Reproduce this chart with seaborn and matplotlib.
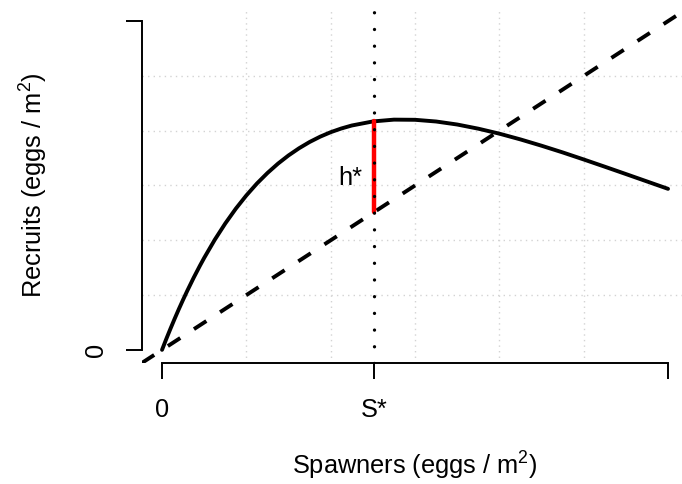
import matplotlib
matplotlib.use("Agg")
import matplotlib.pyplot as plt
import seaborn as sns

# values (grid units, 0..6 on both axes)
spawners = [0, 0.05, 0.1, 0.15, 0.2, 0.25, 0.3, 0.375, 0.45, 0.5, 0.625, 0.75,
            0.875, 1.0, 1.125, 1.25, 1.375, 1.5, 1.625, 1.75, 1.875, 2.0, 2.125,
            2.25, 2.5, 2.75, 3.0, 3.25, 3.5, 3.75, 4.0, 4.25, 4.5, 4.75,
            5.0, 5.25, 5.5, 5.75, 6.0]
recruits = [0, 0.197, 0.386, 0.569, 0.746, 0.916, 1.080, 1.316, 1.538, 1.679,
            2.009, 2.307, 2.577, 2.819, 3.036, 3.228, 3.399, 3.549, 3.680, 3.794,
            3.891, 3.973, 4.040, 4.095, 4.169, 4.202, 4.199, 4.168, 4.113, 4.037,
            3.946, 3.841, 3.726, 3.604, 3.475, 3.343, 3.209, 3.074, 2.939]
s_star = 2.51
h_bottom = 2.51
h_top = 4.17
x_ticks = [0, s_star, 6]
x_labels = ["0", "S*", ""]
y_ticks = [0, 6]
y_labels = ["0", ""]
grid_pos = [0, 1, 2, 3, 4, 5, 6]

sns.set_style("white")
plt.rcParams["font.family"] = ["Liberation Sans", "DejaVu Sans"]
plt.rcParams["mathtext.fontset"] = "custom"
plt.rcParams["mathtext.rm"] = "Liberation Sans"
plt.rcParams["mathtext.it"] = "Liberation Sans"
plt.rcParams["text.color"] = "black"
plt.rcParams["axes.labelcolor"] = "black"
plt.rcParams["xtick.color"] = "black"
plt.rcParams["ytick.color"] = "black"

fs = 18.3

fig = plt.figure(figsize=(6.82, 4.84), dpi=100)
ax = fig.add_axes([0.2079, 0.25, 0.8013, 0.7335])

ax.set_xlim(-0.24, 6.24)
ax.set_ylim(-0.24, 6.24)

# grid like R's grid(): dotted light gray
ax.set_xticks(grid_pos, minor=True)
ax.set_yticks(grid_pos, minor=True)
ax.grid(True, which="minor", ls=(0, (1, 3)), lw=1.0, color="lightgray")
ax.grid(False, which="major")
ax.tick_params(which="minor", length=0)

# replacement line
ax.axline((0, 0), slope=1, color="black", lw=2.8, ls=(0, (3.8, 4.2)))

# stock-recruitment curve
sns.lineplot(x=spawners, y=recruits, ax=ax, color="black", lw=2.8,
             solid_capstyle="round")

# h* segment and S* marker
ax.plot([s_star, s_star], [h_bottom, h_top], color="red", lw=3.2)
ax.axvline(s_star, color="black", lw=2.4, ls=(0, (0.01, 5.0)),
           dash_capstyle="round")
ax.text(2.23, 3.14, "h*", ha="center", va="center", fontsize=fs)

ax.set_xticks(x_ticks)
ax.set_xticklabels(x_labels, fontsize=fs)
ax.set_yticks(y_ticks)
ax.set_yticklabels(y_labels, fontsize=fs, rotation=90, va="center")
ax.tick_params(which="major", length=11.5, width=1.4, direction="out",
               color="black", bottom=True, left=True)
ax.tick_params(axis="x", which="major", pad=14)
ax.tick_params(axis="y", which="major", pad=12.5)

for side in ["top", "right"]:
    ax.spines[side].set_visible(False)
for side in ["left", "bottom"]:
    ax.spines[side].set_linewidth(1.4)
    ax.spines[side].set_color("black")
ax.spines["left"].set_bounds(0, 6)
ax.spines["bottom"].set_bounds(0, 6)

ax.set_xlabel("Spawners (eggs / m$^2$)", fontsize=fs, labelpad=20)
ax.set_ylabel("Recruits (eggs / m$^2$)", fontsize=fs, labelpad=25)

fig.savefig("out.png", dpi=100)
